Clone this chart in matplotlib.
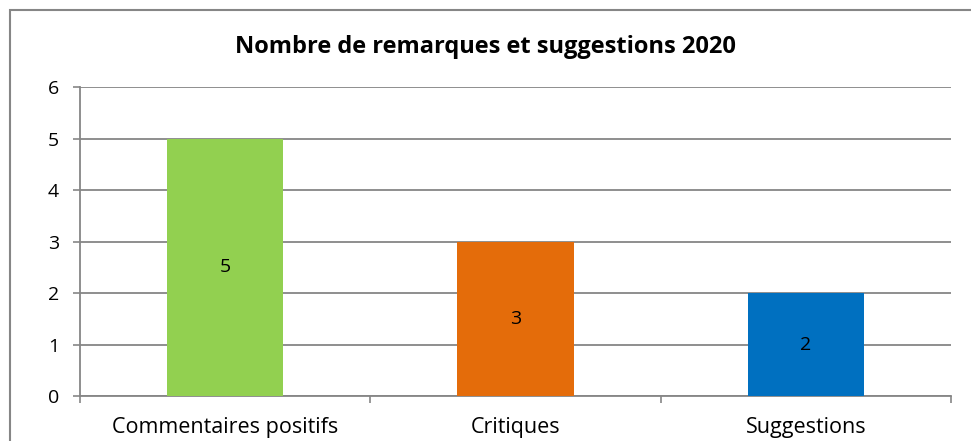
import matplotlib

matplotlib.use("Agg")
import matplotlib.pyplot as plt
from matplotlib.patches import Rectangle

categories = ["Commentaires positifs", "Critiques", "Suggestions"]
values = [5, 3, 2]
colors = ["#92D050", "#E46C0A", "#0070C0"]
title = "Nombre de remarques et suggestions 2020"

GRID = "#868686"
plt.rcParams["font.family"] = ["Open Sans", "DejaVu Sans"]

fig = plt.figure(figsize=(9.71, 4.41), dpi=100)
ax = fig.add_axes([0.0824, 0.102, 0.897, 0.7005])

x = list(range(len(categories)))
bars = ax.bar(x, values, width=0.4, color=colors, zorder=3)
ax.bar_label(bars, labels=[str(v) for v in values], label_type="center",
             fontsize=14, color="black")

ax.set_xlim(-0.5, len(categories) - 0.5)
ax.set_ylim(0, 6)
ax.set_yticks(range(0, 7))
ax.set_xticks(x)
ax.set_xticklabels(categories, fontsize=15.5)
ax.set_xticks([i - 0.5 for i in range(len(categories) + 1)], minor=True)
ax.tick_params(axis="x", which="major", length=0, pad=15)
ax.tick_params(axis="x", which="minor", length=5, width=1.2, color=GRID, direction="out")
ax.tick_params(axis="y", length=5, width=1.2, color=GRID, pad=10, labelsize=14)

ax.grid(axis="y", color=GRID, linewidth=1.3, zorder=0)
for side in ("top", "right"):
    ax.spines[side].set_visible(False)
for side in ("left", "bottom"):
    ax.spines[side].set_color(GRID)
    ax.spines[side].set_linewidth(1.3)

fig.text(0.5, 0.893, title, ha="center", va="center", fontsize=17, fontweight="bold")

# outer chart frame (runs past the right and bottom edges of the image)
fig.patches.append(Rectangle((10 / 971, -0.1), 1.2, 1 - 10 / 441 + 0.1,
                             transform=fig.transFigure, fill=False,
                             edgecolor=GRID, linewidth=1.5))

fig.savefig("out.png", dpi=100)
